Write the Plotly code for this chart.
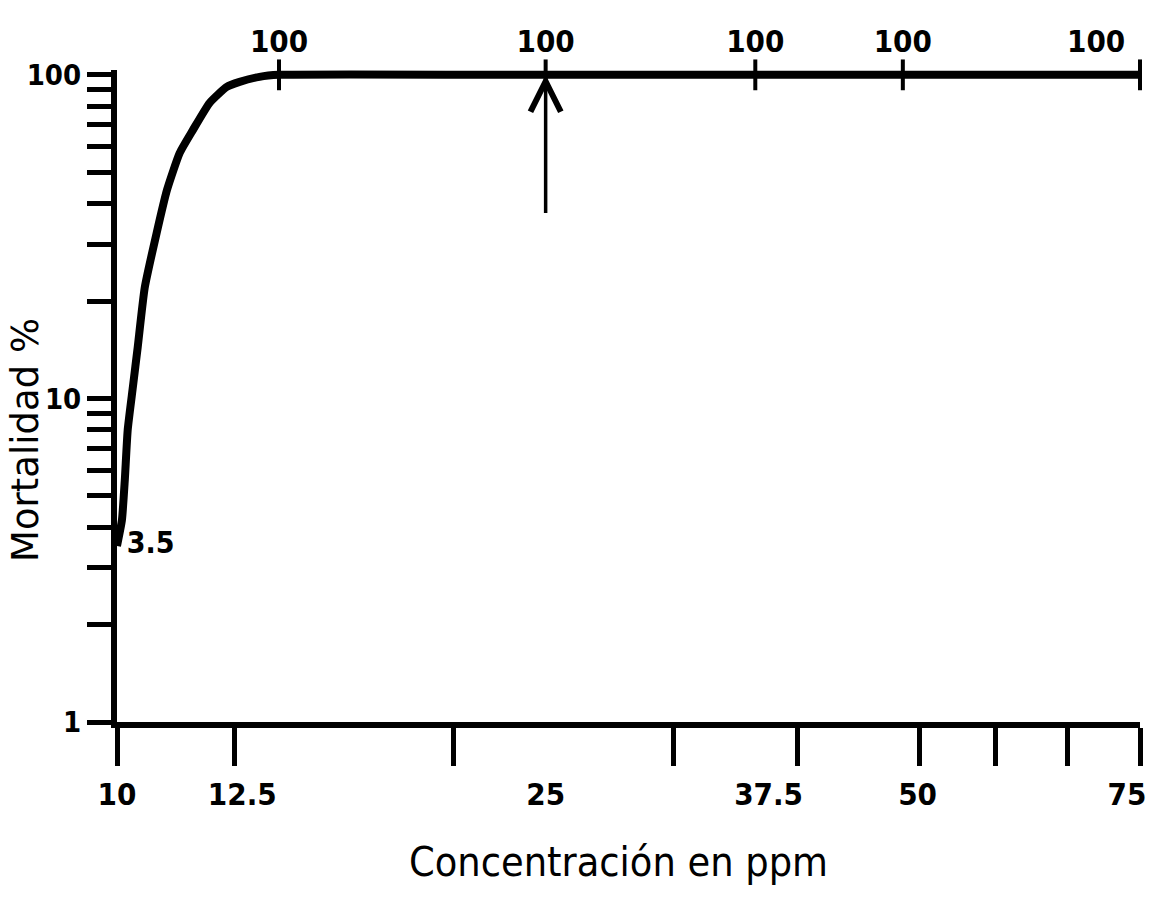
import numpy as np
import plotly.graph_objects as go

# ---- data ----
curve_x = [10.0, 10.1, 10.16, 10.22, 10.33, 10.43, 10.58, 10.84, 11.07, 11.36,
           11.67, 12.07, 12.5, 12.83, 13.36, 13.9, 23.9, 36.6, 49.4, 80.0]
curve_y = [3.5, 4.2, 5.6, 8.0, 10.9, 14.4, 22.0, 32.5, 44.1, 57.4,
           67.6, 81.9, 91.8, 95.1, 98.6, 100, 100, 100, 100, 100]

point_x = [13.9, 23.9, 36.6, 49.4, 80.0]
point_y = [100, 100, 100, 100, 100]

start_x = [10.0]
start_y = [3.5]
start_text = ["3.5"]

x_tick_marks = [10, 12.7, 19.8, 31.0, 39.9, 51.1, 59.6, 69.0, 80]
x_label_pos = [10, 12.9, 23.9, 37.6, 50.9, 77.9]
x_label_text = ["10", "12.5", "25", "37.5", "50", "75"]

y_tickvals = [1, 2, 3, 4, 5, 6, 7, 8, 9, 10, 20, 30, 40, 50, 60, 70, 80, 90, 100]
y_ticktext = ["1", "", "", "", "", "", "", "", "", "10", "", "", "", "", "", "", "", "", "100"]

arrow_x = 23.9
arrow_from_y = 37
arrow_to_y = 100

NARROW = "DejaVu Sans Condensed, Liberation Sans Narrow, Roboto, sans-serif"

fig = go.Figure()

fig.add_trace(go.Scatter(
    x=curve_x, y=curve_y, mode="lines",
    line=dict(color="black", width=8, shape="spline", smoothing=0.5),
    cliponaxis=False, showlegend=False, hoverinfo="skip"))

fig.add_trace(go.Scatter(
    x=point_x, y=point_y, mode="markers+text",
    text=[f"{v:g}" for v in point_y],
    textposition=["top center"] * (len(point_x) - 1) + ["top left"],
    textfont=dict(family=NARROW, size=31, color="black", weight="bold"),
    marker=dict(symbol="line-ns", size=22, line=dict(color="black", width=4)),
    cliponaxis=False, showlegend=False, hoverinfo="skip"))

fig.add_trace(go.Scatter(
    x=start_x, y=start_y, mode="markers+text", text=start_text,
    textposition="middle right",
    marker=dict(size=14, color="rgba(0,0,0,0)"),
    textfont=dict(family=NARROW, size=30, color="black", weight="bold"),
    cliponaxis=False, showlegend=False, hoverinfo="skip"))

fig.add_annotation(
    x=np.log10(arrow_x), y=np.log10(arrow_to_y),
    ax=np.log10(arrow_x), ay=np.log10(arrow_from_y),
    xref="x", yref="y", axref="x", ayref="y",
    showarrow=True, arrowhead=5, arrowsize=1.7, arrowwidth=3.5,
    arrowcolor="black", text="")

fig.add_annotation(
    text="Mortalidad %", xref="paper", yref="paper",
    x=-0.09, y=0.4325, xanchor="center", yanchor="middle",
    textangle=-90, showarrow=False,
    font=dict(family="DejaVu Sans, sans-serif", size=37, color="black"))

fig.add_annotation(
    text="Concentración en ppm", xref="paper", yref="paper",
    x=0.49, y=-0.215, xanchor="center", yanchor="middle",
    showarrow=False,
    font=dict(family=NARROW, size=41, color="black"))

fig.update_xaxes(
    type="log", range=[np.log10(10), np.log10(80)],
    showgrid=False, zeroline=False,
    showline=True, linecolor="black", linewidth=6,
    tickmode="array", tickvals=x_label_pos, ticktext=x_label_text,
    ticks="", ticklabelstandoff=40,
    tickfont=dict(family=NARROW, size=31, color="black", weight="bold"),
    minor=dict(tickmode="array", tickvals=x_tick_marks, ticks="outside",
               ticklen=38, tickwidth=5, tickcolor="black", showgrid=False))

fig.update_yaxes(
    type="log", range=[0, 2.015],
    showgrid=False, zeroline=False,
    showline=True, linecolor="black", linewidth=6,
    tickmode="array", tickvals=y_tickvals, ticktext=y_ticktext,
    ticks="outside", ticklen=24, tickwidth=5, tickcolor="black",
    tickfont=dict(family=NARROW, size=29, color="black", weight="bold"))

fig.update_layout(
    width=1158, height=898,
    margin=dict(l=117, r=15, t=70, b=176),
    paper_bgcolor="white", plot_bgcolor="white")

fig.write_html("out.html")
